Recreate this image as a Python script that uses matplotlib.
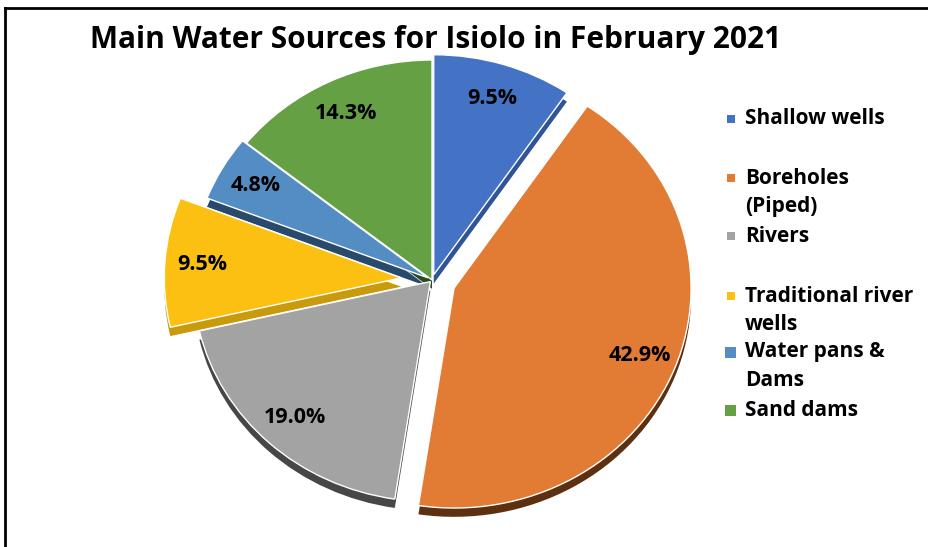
import matplotlib.pyplot as plt
from matplotlib.lines import Line2D
from matplotlib.patches import Rectangle

plt.rcParams['font.family'] = ['Open Sans', 'DejaVu Sans']

# data
labels = ["Shallow wells", "Boreholes\n(Piped)", "Rivers",
          "Traditional river\nwells", "Water pans &\nDams", "Sand dams"]
values = [9.5, 42.9, 19.0, 9.5, 4.8, 14.3]

colors = ['#4472C4', '#E27B34', '#A3A3A3', '#FBC011', '#548DC3', '#66A044']
side_colors = ['#2F5597', '#5C3010', '#474747', '#C99A0C', '#2A4A6B', '#2F4A1F']
explode = [0.025, 0.1, 0.01, 0.13, 0.02, 0.0]

W, H = 929, 547
fig = plt.figure(figsize=(W / 100, H / 100), dpi=100)

# pie centre at (432, 280) px from top-left, radius 237 x 220 px
cx, cy = 432, H - 280
rx, ry = 237, 220
ax = fig.add_axes([(cx - 260) / W, (cy - 250) / H, 520 / W, 500 / H])

depth = 0.04
ax.pie(values, explode=explode, colors=side_colors, startangle=90,
       counterclock=False, center=(0, -depth),
       wedgeprops=dict(linewidth=0))
wedges, texts, autotexts = ax.pie(
    values, explode=explode, colors=colors, startangle=90,
    counterclock=False, autopct='%1.1f%%', pctdistance=0.84,
    wedgeprops=dict(edgecolor='white', linewidth=1),
    textprops=dict(fontsize=15.5, fontweight='bold', color='black'))
ax.set_aspect('auto')
ax.set_xlim(-260 / rx, 260 / rx)
ax.set_ylim(-250 / ry, 250 / ry)
ax.axis('off')

fig.text(436 / W, 1 - 40 / H, "Main Water Sources for Isiolo in February 2021",
         ha='center', va='center', fontsize=21.5, fontweight='bold')

# legend, placed by hand like the original
legend_y = [119, 178, 236, 296, 352, 410]
marker_size = [8, 8, 8, 8, 11, 11]
line_gap = 29
for lab, col, y, ms in zip(labels, colors, legend_y, marker_size):
    fig.add_artist(Rectangle(((731 - ms / 2) / W, 1 - (y + ms / 2) / H),
                             ms / W, ms / H, transform=fig.transFigure,
                             facecolor=col, edgecolor='none'))
    for k, line in enumerate(lab.split('\n')):
        fig.text(745 / W, 1 - (y + k * line_gap) / H, line, ha='left',
                 va='center', fontsize=15, fontweight='bold')

# frame lines (top and left only visible)
fig.add_artist(Line2D([5 / W, 1], [1 - 8 / H, 1 - 8 / H], color='black',
                      linewidth=2, transform=fig.transFigure))
fig.add_artist(Line2D([5 / W, 5 / W], [0, 1 - 8 / H], color='black',
                      linewidth=2, transform=fig.transFigure))

fig.savefig('out.png', dpi=100)
